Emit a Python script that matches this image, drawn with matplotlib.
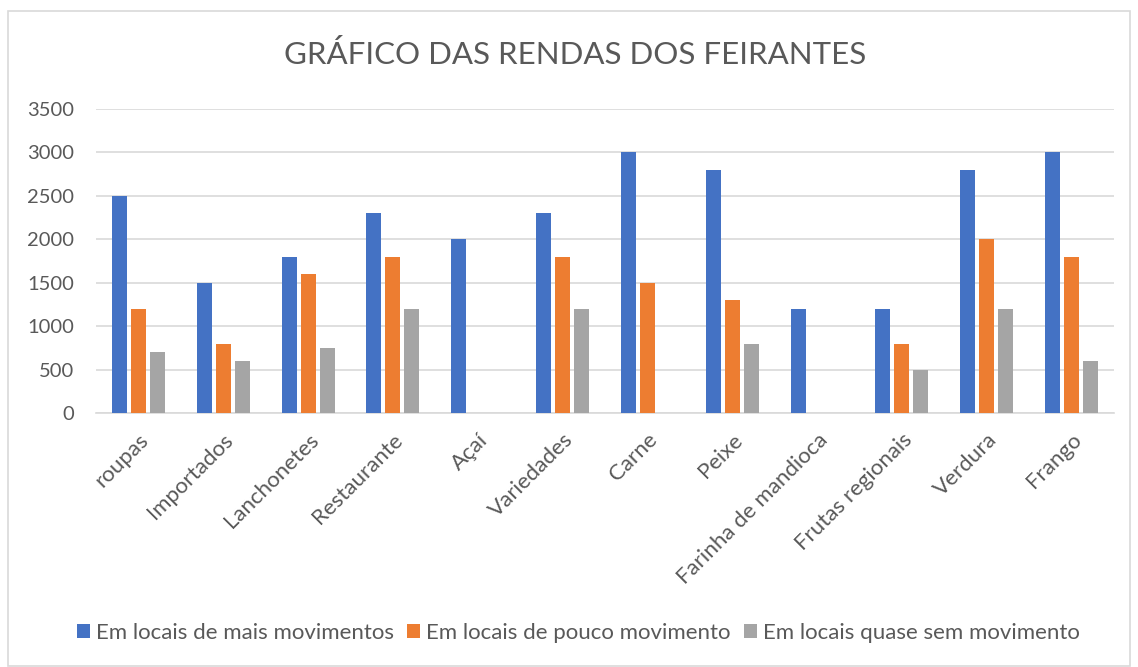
import matplotlib.pyplot as plt
import numpy as np
from matplotlib.patches import Rectangle

plt.rcParams['font.family'] = ['Lato', 'DejaVu Sans']

categorias = ['roupas', 'Importados', 'Lanchonetes', 'Restaurante', 'Açaí', 'Variedades',
              'Carne', 'Peixe', 'Farinha de mandioca', 'Frutas regionais', 'Verdura', 'Frango']
mais_mov = [2500, 1500, 1800, 2300, 2000, 2300, 3000, 2800, 1200, 1200, 2800, 3000]
pouco_mov = [1200, 800, 1600, 1800, 0, 1800, 1500, 1300, 0, 800, 2000, 1800]
sem_mov = [700, 600, 750, 1200, 0, 1200, 0, 800, 0, 500, 1200, 600]
series = ['Em locais de mais movimentos', 'Em locais de pouco movimento',
          'Em locais quase sem movimento']
cores = ['#4472C4', '#ED7D31', '#A5A5A5']

fig = plt.figure(figsize=(11.38, 6.67), dpi=100)
ax = fig.add_axes([96/1138, 1-413/667, 1018/1138, 304/667])

x = np.arange(len(categorias))
w = 0.177
passo = 0.224
for i, (vals, nome, cor) in enumerate(zip([mais_mov, pouco_mov, sem_mov], series, cores)):
    ax.bar(x + (i-1)*passo, vals, w, color=cor, label=nome, zorder=3)

ax.set_xlim(-0.5, len(categorias)-0.5)
ax.set_ylim(0, 3500)
ax.set_yticks(range(0, 3501, 500))
ax.yaxis.grid(True, color='#D9D9D9', linewidth=1.2, zorder=0)
for s in ['top', 'right', 'left']:
    ax.spines[s].set_visible(False)
ax.spines['bottom'].set_color('#D9D9D9')
ax.spines['bottom'].set_linewidth(1.2)
ax.tick_params(axis='both', length=0, colors='#595959')
ax.tick_params(axis='y', pad=16, labelsize=14.5)
ax.tick_params(axis='x', pad=12, labelsize=16)
ax.set_xticks(x)
ax.set_xticklabels(categorias, rotation=45, ha='right', va='top', rotation_mode='anchor')

fig.text(0.505, 1-54/667, 'GRÁFICO DAS RENDAS DOS FEIRANTES', ha='center', va='center',
         fontsize=22.5, color='#595959')

leg = fig.legend(loc='center', bbox_to_anchor=(0.508, 0.051), ncol=3, frameon=False,
                 fontsize=16, handlelength=0.6, handleheight=0.6, handletextpad=0.25,
                 columnspacing=0.6)
for t in leg.get_texts():
    t.set_color('#595959')

fig.patches.append(Rectangle((8/1138, 0.002), 1-16/1138, 1-12/667, transform=fig.transFigure,
                             fill=False, edgecolor='#D9D9D9', linewidth=1.2))

fig.savefig('out.png', dpi=100)
